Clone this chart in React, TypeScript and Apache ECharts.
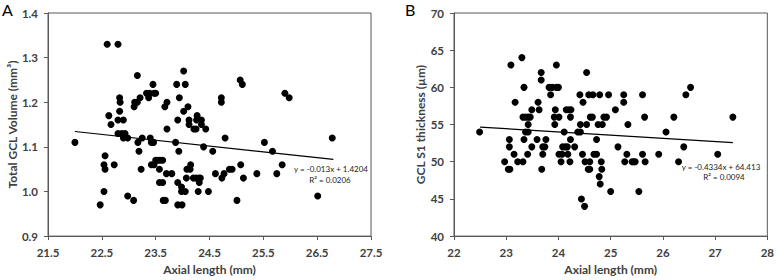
import React, { useEffect, useRef } from "react";
import * as echarts from "echarts";

// Panel A: Axial length (mm) vs Total GCL Volume (mm³)
const axialA: number[] = [
  22.0, 22.6, 22.8, 22.47, 22.54, 22.56, 22.54, 22.56, 22.63, 22.67, 22.73, 22.83, 22.84, 22.83, 22.8,
  22.9, 22.8, 22.87, 22.93, 22.9, 22.98, 22.98, 23.09, 23.11, 23.1, 23.16, 23.21, 23.16, 23.17, 23.19,
  23.23, 23.25, 23.33, 23.37, 23.39, 23.4, 23.42, 23.46, 23.45, 23.47, 23.5, 23.42, 23.47, 23.5, 23.54,
  23.58, 23.63, 23.57, 23.57, 23.63, 23.64, 23.68, 23.67, 23.71, 23.71, 23.7, 23.8, 23.87, 23.89, 23.91,
  23.91, 23.91, 23.99, 23.94, 23.93, 23.98, 23.98, 24.02, 24.02, 24.05, 24.05, 24.08, 24.07, 24.1, 24.12,
  24.12, 24.14, 24.15, 24.21, 24.25, 24.26, 24.27, 24.35, 24.35, 24.2, 24.25, 24.3, 24.33, 24.31, 24.29,
  24.39, 24.43, 24.48, 24.56, 24.61, 24.72, 24.72, 24.79, 24.73, 24.77, 24.87, 24.92, 25.01, 25.07, 25.11,
  25.08, 25.13, 25.38, 25.52, 25.67, 25.75, 25.85, 25.9, 25.98, 26.51, 26.78,
];
const volumeA: number[] = [
  1.11, 1.33, 1.33, 0.97, 1.0, 1.08, 1.06, 1.05, 1.17, 1.15, 1.06, 1.21, 1.2, 1.18, 1.16,
  1.16, 1.13, 1.13, 1.13, 1.12, 1.12, 0.99, 0.98, 1.2, 1.19, 1.2, 1.21, 1.26, 1.11, 1.09,
  1.05, 1.12, 1.22, 1.21, 1.22, 1.12, 1.11, 1.11, 1.24, 1.22, 1.22, 1.06, 1.06, 1.07, 1.07,
  1.07, 1.07, 1.05, 1.02, 1.02, 0.98, 0.98, 1.19, 1.2, 1.14, 1.04, 1.04, 1.11, 1.24, 1.02,
  1.16, 0.97, 0.97, 1.21, 1.09, 1.01, 1.0, 1.27, 1.18, 1.24, 1.0, 1.05, 1.03, 1.19, 1.16,
  1.15, 1.05, 1.06, 1.14, 1.14, 1.16, 1.17, 1.16, 1.15, 1.03, 1.03, 1.03, 1.03, 1.02, 1.0,
  1.1, 1.14, 1.0, 1.09, 1.04, 1.21, 1.2, 1.12, 1.03, 1.04, 1.05, 1.05, 0.98, 1.25, 1.24,
  1.06, 1.03, 1.04, 1.11, 1.09, 1.04, 1.06, 1.22, 1.21, 0.99, 1.12,
];
const trendA: number[][] = [
  [22.0, 1.1344],
  [26.8, 1.072],
];

// Panel B: Axial length (mm) vs GCL S1 thickness (µm)
const axialB: number[] = [
  22.49, 22.97, 23.04, 23.07, 23.06, 23.06, 23.09, 23.15, 23.17, 23.22, 23.3, 23.32, 23.32, 23.34, 23.34,
  23.37, 23.37, 23.42, 23.42, 23.42, 23.41, 23.46, 23.49, 23.49, 23.59, 23.61, 23.63, 23.67, 23.67, 23.68,
  23.7, 23.7, 23.74, 23.76, 23.82, 23.88, 23.96, 24.0, 23.85, 23.96, 23.94, 23.92, 23.93, 24.01, 24.01,
  24.05, 24.07, 24.08, 24.11, 24.13, 24.15, 24.17, 24.18, 24.2, 24.24, 24.22, 24.23, 24.23, 24.31, 24.37,
  24.41, 24.42, 24.42, 24.44, 24.46, 24.47, 24.5, 24.51, 24.54, 24.54, 24.57, 24.58, 24.6, 24.6, 24.61,
  24.65, 24.66, 24.68, 24.73, 24.73, 24.76, 24.79, 24.78, 24.8, 24.82, 24.83, 24.84, 24.87, 24.92, 24.96,
  25.0, 25.09, 25.14, 25.25, 25.25, 25.27, 25.31, 25.33, 25.41, 25.44, 25.47, 25.54, 25.61, 25.61, 25.65,
  25.66, 25.92, 26.06, 26.21, 26.3, 26.4, 26.44, 26.53, 27.05, 27.34,
];
const thicknessB: number[] = [
  54, 50, 49, 49, 52, 53, 63, 51, 58, 50, 64, 50, 56, 60, 53,
  56, 54, 56, 55, 54, 51, 56, 57, 52, 53, 58, 57, 62, 61, 49,
  51, 52, 52, 53, 60, 60, 60, 60, 59, 63, 57, 56, 55, 56, 51,
  50, 51, 52, 54, 52, 57, 52, 51, 57, 57, 50, 53, 56, 52, 54,
  59, 54, 55, 45, 51, 58, 44, 50, 62, 55, 49, 59, 49, 50, 56,
  56, 59, 51, 51, 53, 55, 59, 48, 47, 50, 49, 55, 56, 56, 59,
  46, 57, 52, 59, 58, 50, 51, 55, 50, 50, 50, 46, 59, 51, 56,
  50, 51, 54, 56, 50, 52, 59, 60, 51, 56,
];
const trendB: number[][] = [
  [22.5, 54.66],
  [27.34, 52.56],
];

const xTicksA = { min: 21.5, max: 27.5, interval: 1 };
const yTicksA = { min: 0.9, max: 1.4, interval: 0.1 };
const xTicksB = { min: 22, max: 28, interval: 1 };
const yTicksB = { min: 40, max: 70, interval: 5 };

const FONT = "Lato, 'Open Sans', 'Liberation Sans', sans-serif";
const AXIS_COLOR = "#595959";
const LABEL_COLOR = "#404040";

function zip(xs: number[], ys: number[]): number[][] {
  return xs.map((x, i) => [x, ys[i]]);
}

export default function App() {
  const ref = useRef<HTMLDivElement>(null);

  useEffect(() => {
    if (!ref.current) return;
    const chart = echarts.init(ref.current, undefined, { renderer: "svg" });

    const axisCommon = {
      axisLine: { show: true, lineStyle: { color: AXIS_COLOR, width: 1 } },
      axisTick: { show: true, inside: false, length: 4, lineStyle: { color: AXIS_COLOR } },
      splitLine: { show: false },
      axisLabel: {
        color: LABEL_COLOR,
        fontFamily: FONT,
        fontWeight: "bold" as const,
        fontSize: 11.5,
        margin: 10,
      },
      nameLocation: "middle" as const,
      nameTextStyle: {
        color: LABEL_COLOR,
        fontFamily: FONT,
        fontWeight: "bold" as const,
        fontSize: 12,
      },
    };

    const textStyle = (text: string) => ({
      text,
      fill: "#222",
      font: `8px ${FONT}`,
      align: "center",
      verticalAlign: "middle",
    });

    chart.setOption({
      animation: false,
      backgroundColor: "#ffffff",
      grid: [
        { left: 48, top: 13, width: 323, height: 227, show: true, borderColor: AXIS_COLOR, borderWidth: 1, containLabel: false },
        { left: 454, top: 13, width: 316, height: 227, show: true, borderColor: AXIS_COLOR, borderWidth: 1, containLabel: false },
      ],
      xAxis: [
        {
          ...axisCommon,
          gridIndex: 0,
          type: "value",
          min: xTicksA.min,
          max: xTicksA.max,
          interval: xTicksA.interval,
          name: "Axial length (mm)",
          nameGap: 22,
          axisLabel: { ...axisCommon.axisLabel, formatter: (v: number) => v.toFixed(1) },
        },
        {
          ...axisCommon,
          gridIndex: 1,
          type: "value",
          min: xTicksB.min,
          max: xTicksB.max,
          interval: xTicksB.interval,
          name: "Axial length (mm)",
          nameGap: 22,
        },
      ],
      yAxis: [
        {
          ...axisCommon,
          gridIndex: 0,
          type: "value",
          min: yTicksA.min,
          max: yTicksA.max,
          interval: yTicksA.interval,
          name: "Total GCL Volume (mm³)",
          nameGap: 29,
          axisLabel: { ...axisCommon.axisLabel, formatter: (v: number) => v.toFixed(1) },
        },
        {
          ...axisCommon,
          gridIndex: 1,
          type: "value",
          min: yTicksB.min,
          max: yTicksB.max,
          interval: yTicksB.interval,
          name: "GCL S1 thickness (µm)",
          nameGap: 26,
        },
      ],
      series: [
        {
          type: "scatter",
          xAxisIndex: 0,
          yAxisIndex: 0,
          data: zip(axialA, volumeA),
          symbol: "circle",
          symbolSize: 7,
          itemStyle: { color: "#000000", opacity: 1 },
        },
        {
          type: "line",
          xAxisIndex: 0,
          yAxisIndex: 0,
          data: trendA,
          symbol: "none",
          lineStyle: { color: "#000000", width: 1.2 },
        },
        {
          type: "scatter",
          xAxisIndex: 1,
          yAxisIndex: 1,
          data: zip(axialB, thicknessB),
          symbol: "circle",
          symbolSize: 7,
          itemStyle: { color: "#000000", opacity: 1 },
        },
        {
          type: "line",
          xAxisIndex: 1,
          yAxisIndex: 1,
          data: trendB,
          symbol: "none",
          lineStyle: { color: "#000000", width: 1.2 },
        },
      ],
      graphic: [
        { type: "text", left: 2, top: 1, style: { text: "A", fill: "#000", font: `16px ${FONT}` } },
        { type: "text", left: 405, top: 1, style: { text: "B", fill: "#000", font: `16px ${FONT}` } },
        { type: "text", x: 331, y: 169, style: textStyle("y = -0.013x + 1.4204") },
        { type: "text", x: 330, y: 180, style: textStyle("R² = 0.0206") },
        { type: "text", x: 721, y: 167, style: textStyle("y = -0.4334x + 64.413") },
        { type: "text", x: 724, y: 177, style: textStyle("R² = 0.0094") },
      ],
    });

    return () => chart.dispose();
  }, []);

  return (
    <div
      ref={ref}
      style={{ position: "fixed", left: 0, top: 0, width: 777, height: 280, background: "#fff" }}
    />
  );
}
